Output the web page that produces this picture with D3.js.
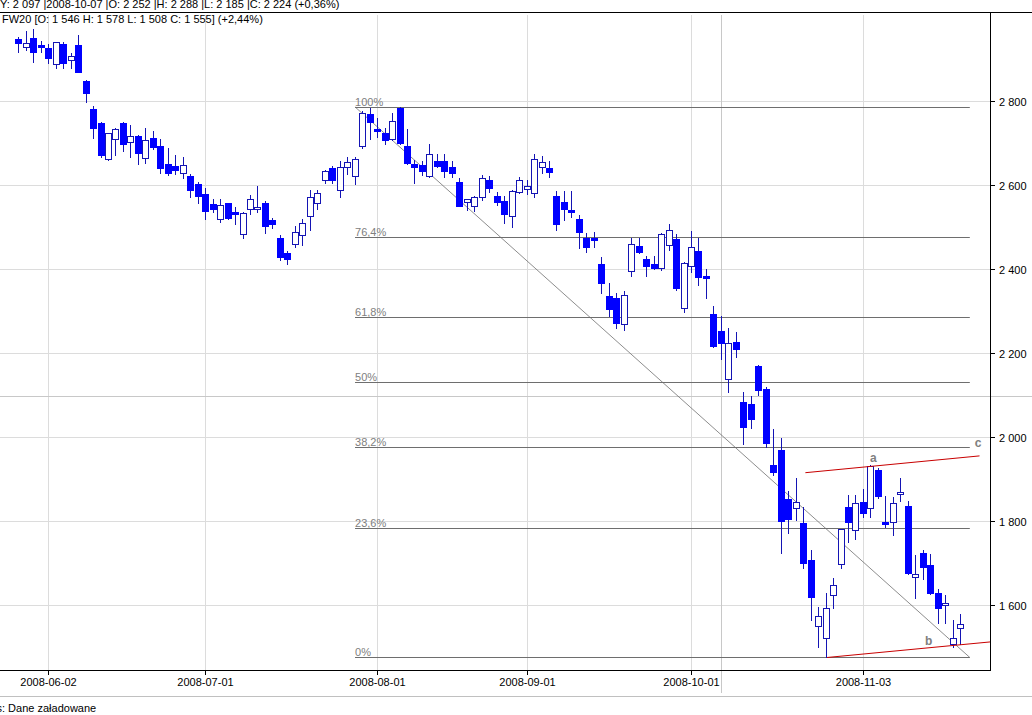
<!DOCTYPE html>
<html><head><meta charset="utf-8">
<script src="https://cdn.jsdelivr.net/npm/d3@7"></script>
<style>
html,body{margin:0;padding:0;background:#fff;}
svg{display:block;font-family:"Liberation Sans",Arial,sans-serif;}
</style></head>
<body>
<svg id="chart" width="1032" height="715"></svg>
<script>
// ---------- data ----------
const startDate = "2008-05-27";
const holidays = ["2008-08-15", "2008-11-11"];
const opens  = [2948,2928,2949,2933,2927,2887,2936,2898,2933,2848,2781,2747,2661,2709,2748,2703,2717,2665,2711,2693,2649,2645,2628,2621,2602,2579,2555,2518,2556,2535,2483,2542,2542,2556,2517,2475,2437,2460,2481,2526,2556,2612,2640,2587,2644,2621,2693,2769,2733,2725,2709,2784,2693,2650,2648,2622,2657,2656,2642,2606,2560,2550,2571,2612,2574,2562,2526,2584,2590,2582,2642,2641,2574,2560,2540,2519,2475,2475,2413,2336,2330,2268,2395,2455,2424,2411,2402,2457,2471,2306,2408,2443,2383,2293,2252,2137,2227,2083,2078,2169,2114,1933,1969,1852,1830,1796,1707,1550,1521,1624,1697,1834,1779,1846,1832,1921,1798,1797,1864,1836,1666,1723,1695,1628,1599,1506,1546];
const highs  = [2953,2967,2971,2943,2935,2941,2941,2914,2957,2850,2787,2749,2725,2735,2751,2743,2719,2735,2729,2709,2687,2671,2666,2626,2608,2592,2567,2566,2558,2547,2535,2576,2598,2562,2521,2481,2444,2502,2519,2587,2588,2636,2645,2656,2666,2667,2777,2783,2759,2735,2772,2786,2733,2660,2656,2698,2673,2674,2658,2616,2567,2573,2624,2621,2584,2574,2588,2620,2612,2674,2668,2657,2586,2586,2586,2528,2485,2489,2429,2366,2342,2348,2475,2475,2432,2432,2485,2506,2483,2416,2490,2475,2399,2312,2288,2259,2249,2108,2098,2171,2120,2018,1997,1872,1902,1834,1731,1596,1629,1665,1782,1862,1862,1875,1933,1925,1859,1858,1902,1848,1719,1731,1721,1637,1624,1564,1578];
const lows   = [2917,2921,2894,2916,2890,2879,2879,2879,2868,2798,2713,2667,2659,2671,2681,2667,2649,2653,2685,2628,2625,2626,2616,2572,2556,2518,2536,2513,2519,2507,2473,2530,2536,2486,2497,2421,2411,2452,2456,2494,2544,2604,2604,2571,2626,2602,2687,2709,2715,2697,2706,2698,2650,2604,2624,2618,2642,2618,2618,2549,2540,2539,2564,2584,2552,2510,2499,2580,2579,2572,2628,2618,2493,2517,2523,2449,2440,2452,2342,2287,2259,2255,2383,2439,2384,2401,2398,2445,2350,2298,2394,2362,2332,2215,2185,2108,2190,1983,2021,2100,1977,1910,1723,1772,1802,1687,1564,1501,1475,1592,1687,1751,1756,1810,1810,1854,1785,1767,1848,1673,1616,1663,1626,1558,1558,1501,1508];
const closes = [2937,2937,2916,2928,2902,2940,2890,2907,2870,2820,2735,2671,2723,2733,2697,2717,2677,2706,2691,2641,2629,2636,2647,2588,2575,2539,2542,2552,2521,2530,2533,2567,2547,2502,2506,2428,2423,2487,2509,2572,2582,2633,2612,2644,2654,2661,2772,2749,2728,2706,2752,2701,2652,2642,2634,2673,2646,2634,2629,2551,2566,2571,2616,2594,2559,2530,2586,2612,2597,2663,2654,2632,2506,2542,2536,2487,2452,2468,2366,2304,2272,2338,2459,2441,2408,2403,2483,2493,2354,2414,2452,2380,2379,2217,2224,2225,2209,2023,2044,2112,1985,1917,1801,1804,1846,1699,1618,1574,1592,1648,1780,1797,1842,1818,1931,1860,1793,1842,1868,1675,1673,1691,1628,1592,1604,1521,1555];
const yTicks = [1600,1800,2000,2200,2400,2600,2800];
const dateTicks = ["2008-06-02","2008-07-01","2008-08-01","2008-09-01","2008-10-01","2008-11-03"];
const fibHigh = 2786, fibLow = 1475;
const fibLevels = [1, 0.764, 0.618, 0.5, 0.382, 0.236, 0];
const fibLabels = ["100%","76,4%","61,8%","50%","38,2%","23,6%","0%"];
const fibStartIdx = 45.05, fibEndIdx = 127.3;
const channelTop = [[105.3,1915],[128.6,1955]];
const channelBottom = [[108.2,1475],[130.0,1512]];
const waveLabels = [["a",114.4,1950],["b",121.8,1515],["c",128.4,1985]];
const cross = {date:"2008-10-07", value:2097};
const headerTop = "Y: 2 097 |2008-10-07 |O: 2 252 |H: 2 288 |L: 2 185 |C: 2 224 (+0,36%)";
const headerSym = "FW20 [O: 1 546  H: 1 578  L: 1 508  C: 1 555] (+2,44%)";

// ---------- trading dates ----------
const dates = [];
{
  let d = new Date(startDate + "T12:00:00Z");
  const fmt = d3.utcFormat("%Y-%m-%d");
  while (dates.length < opens.length) {
    const s = fmt(d), wd = d.getUTCDay();
    if (wd !== 0 && wd !== 6 && !holidays.includes(s)) dates.push(s);
    d = new Date(d.getTime() + 86400000);
  }
}
const data = opens.map((o,i)=>({i, date:dates[i], o, h:highs[i], l:lows[i], c:closes[i]}));

// ---------- layout ----------
const svg = d3.select("#chart");
const L = 0, R = 990, T = 15, B = 670;
const x = d3.scaleLinear().domain([-2.45, 130.0]).range([L, R]);
const y = d3.scaleLinear().domain([1445.2, 3004.8]).range([B, T]);
const fmtNum = v => d3.format(",")(v).replace(/,/g, " ");
const BLUE = "#0000ff", DARK = "#1414b4", GRID = "#dcdcdc";

const clip = svg.append("defs").append("clipPath").attr("id","plot")
  .append("rect").attr("x",L).attr("y",T).attr("width",R-L).attr("height",B-T);

// grid
const g = svg.append("g");
g.selectAll("line.hg").data(yTicks).join("line")
  .attr("x1",L).attr("x2",R)
  .attr("y1",d=>Math.round(y(d))+0.5).attr("y2",d=>Math.round(y(d))+0.5)
  .attr("stroke",GRID);
const tickIdx = dateTicks.map(t=>dates.indexOf(t));
g.selectAll("line.vg").data(tickIdx).join("line")
  .attr("x1",d=>Math.round(x(d))+0.5).attr("x2",d=>Math.round(x(d))+0.5)
  .attr("y1",T).attr("y2",B).attr("stroke",GRID);

// crosshair
const ci = dates.indexOf(cross.date);
svg.append("line").attr("x1",0).attr("x2",1032)
  .attr("y1",Math.round(y(cross.value))+0.5).attr("y2",Math.round(y(cross.value))+0.5)
  .attr("stroke","#c8c8c8");
svg.append("line").attr("x1",Math.round(x(ci))+0.5).attr("x2",Math.round(x(ci))+0.5)
  .attr("y1",T).attr("y2",693).attr("stroke","#c8c8c8");

// fib lines
const fg = svg.append("g").attr("clip-path","url(#plot)");
fibLevels.forEach((lv,k)=>{
  const v = fibLow + lv*(fibHigh-fibLow);
  const yy = Math.round(y(v))+0.5;
  fg.append("line").attr("x1",x(fibStartIdx)).attr("x2",x(fibEndIdx))
    .attr("y1",yy).attr("y2",yy).attr("stroke","#6e6e6e");
  fg.append("text").attr("x",x(fibStartIdx)).attr("y",yy-1.5)
    .attr("font-size",11).attr("fill","#808080").text(fibLabels[k]);
});
// diagonal trend line
fg.append("line").attr("x1",x(fibStartIdx)).attr("y1",y(fibHigh))
  .attr("x2",x(fibEndIdx)).attr("y2",y(fibLow))
  .attr("stroke","#707070").attr("stroke-width",0.8);

// candles
const cg = svg.append("g").attr("clip-path","url(#plot)");
data.forEach(d=>{
  const cx = Math.round(x(d.i));
  cg.append("line").attr("x1",cx+0.5).attr("x2",cx+0.5)
    .attr("y1",Math.round(y(d.h))).attr("y2",Math.round(y(d.l))+1)
    .attr("stroke",DARK);
  const top = Math.round(y(Math.max(d.o,d.c))), bot = Math.round(y(Math.min(d.o,d.c)));
  if (d.c >= d.o) {
    cg.append("rect").attr("x",cx-2.5).attr("width",6)
      .attr("y",top+0.5).attr("height",Math.max(bot-top,2))
      .attr("fill","#fff").attr("stroke",DARK);
  } else {
    cg.append("rect").attr("x",cx-3).attr("width",7)
      .attr("y",top).attr("height",Math.max(bot-top,2)+1)
      .attr("fill",BLUE);
  }
});

// channel lines
[channelTop, channelBottom].forEach(seg=>{
  svg.append("line").attr("x1",x(seg[0][0])).attr("y1",y(seg[0][1]))
    .attr("x2",x(seg[1][0])).attr("y2",y(seg[1][1]))
    .attr("stroke","#c80000").attr("stroke-width",1);
});
waveLabels.forEach(w=>{
  svg.append("text").attr("x",x(w[1])).attr("y",y(w[2])+4)
    .attr("text-anchor","middle").attr("font-size",12).attr("font-weight","bold")
    .attr("fill","#808080").text(w[0]);
});

// axes frame
svg.append("line").attr("x1",0).attr("x2",1032).attr("y1",12.5).attr("y2",12.5).attr("stroke","#000");
svg.append("line").attr("x1",R+0.5).attr("x2",R+0.5).attr("y1",12).attr("y2",B+1).attr("stroke","#000");
svg.append("line").attr("x1",0).attr("x2",R+1).attr("y1",B+0.5).attr("y2",B+0.5).attr("stroke","#000");

// right axis
const ya = svg.append("g");
yTicks.forEach(v=>{
  const yy = Math.round(y(v))+0.5;
  ya.append("line").attr("x1",R).attr("x2",R+5).attr("y1",yy).attr("y2",yy).attr("stroke","#000");
  ya.append("text").attr("x",R+9).attr("y",yy+4).attr("font-size",11).attr("fill","#000").text(fmtNum(v));
});
// bottom axis
tickIdx.forEach((ix,k)=>{
  const xx = Math.round(x(ix))+0.5;
  svg.append("line").attr("x1",xx).attr("x2",xx).attr("y1",B).attr("y2",B+5).attr("stroke","#000");
  svg.append("text").attr("x",xx).attr("y",686).attr("text-anchor","middle")
    .attr("font-size",11).attr("fill","#000").text(dateTicks[k]);
});

// header
svg.append("text").attr("x",0).attr("y",7.5).attr("font-size",11).attr("fill","#000").text(headerTop);
svg.append("text").attr("x",2).attr("y",23).attr("font-size",11).attr("fill","#000").text(headerSym);

// status bar
svg.append("line").attr("x1",0).attr("x2",1032).attr("y1",696.5).attr("y2",696.5).attr("stroke","#c0c0c0");
const st = svg.append("text").attr("y",712).attr("font-size",11).attr("fill","#000").text("Status");
const stw = st.node().getComputedTextLength();
st.attr("x", 2 - stw);
svg.append("text").attr("x",2).attr("y",712).attr("font-size",11).attr("fill","#000").text(": Dane załadowane");
</script>
</body></html>
